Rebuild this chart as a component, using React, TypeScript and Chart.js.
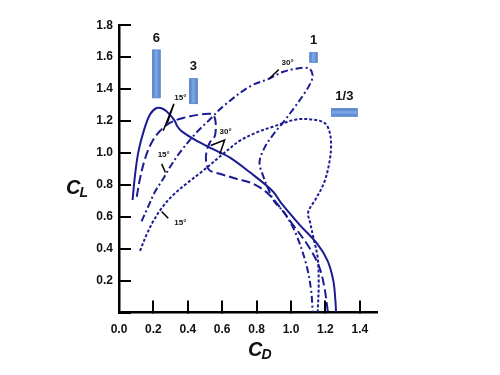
import React, { useEffect, useRef } from 'react';
import { Chart, registerables } from 'chart.js';

Chart.register(...registerables);

// ---- data (C_D, C_L) ----
const ar6: [number, number][] = [
  [0.079, 0.705], [0.093, 0.859], [0.112, 1.003], [0.141, 1.127], [0.18, 1.24],
  [0.219, 1.281], [0.257, 1.275], [0.296, 1.24], [0.325, 1.199], [0.34, 1.165],
  [0.365, 1.135], [0.45, 1.077], [0.547, 1.023], [0.643, 0.972], [0.759, 0.88],
  [0.894, 0.76], [0.94, 0.69], [1.049, 0.551], [1.155, 0.427], [1.213, 0.324],
  [1.246, 0.2], [1.258, 0.077], [1.262, 0.0],
];
const ar3: [number, number][] = [
  [0.103, 0.725], [0.122, 0.838], [0.151, 0.962], [0.19, 1.065], [0.238, 1.137],
  [0.296, 1.188], [0.373, 1.219], [0.47, 1.24], [0.528, 1.245], [0.552, 1.232],
  [0.562, 1.188], [0.557, 1.106], [0.528, 1.065], [0.508, 1.003], [0.508, 0.931],
  [0.528, 0.89], [0.586, 0.869], [0.682, 0.838], [0.779, 0.807], [0.875, 0.736],
  [1.01, 0.551], [1.107, 0.406], [1.165, 0.283], [1.194, 0.159], [1.213, 0.015],
  [1.215, 0.0],
];
const ar1: [number, number][] = [
  [0.131, 0.571], [0.17, 0.664], [0.209, 0.756], [0.257, 0.838], [0.296, 0.91],
  [0.354, 1.003], [0.45, 1.127], [0.528, 1.209], [0.605, 1.291], [0.759, 1.415],
  [0.875, 1.466], [0.952, 1.507], [1.049, 1.531], [1.107, 1.528], [1.126, 1.486],
  [1.117, 1.445], [1.078, 1.373], [1.01, 1.27], [0.952, 1.188], [0.9, 1.12],
  [0.845, 1.03], [0.817, 0.941], [0.837, 0.859], [0.875, 0.756], [0.904, 0.694],
  [0.965, 0.62], [1.03, 0.489], [1.088, 0.304], [1.117, 0.139], [1.126, 0.0],
];
const ar13: [number, number][] = [
  [0.122, 0.386], [0.161, 0.489], [0.199, 0.571], [0.247, 0.653], [0.315, 0.736],
  [0.392, 0.807], [0.479, 0.88], [0.605, 0.993], [0.701, 1.075], [0.798, 1.127],
  [0.894, 1.164], [1.03, 1.209], [1.126, 1.209], [1.194, 1.188], [1.223, 1.137],
  [1.233, 1.044], [1.223, 0.941], [1.194, 0.818], [1.146, 0.715], [1.1, 0.628],
  [1.112, 0.56], [1.13, 0.47], [1.155, 0.344], [1.161, 0.18], [1.155, 0.0],
];

// aspect-ratio boxes
const boxLabels = ['6', '3', '1', '1/3'];
const boxCD0 = [0.193, 0.408, 1.107, 1.233];
const boxCD1 = [0.242, 0.458, 1.155, 1.388];
const boxCL0 = [1.343, 1.306, 1.565, 1.227];
const boxCL1 = [1.647, 1.468, 1.631, 1.28];

// angle annotations
const angleLabels = ['15°', '30°', '15°', '15°', '30°'];
const angleLabelPos: [number, number][] = [
  [0.357, 1.348], [0.62, 1.133], [0.26, 0.985], [0.357, 0.565], [0.98, 1.563],
];
const anglePointers: [number, number][][] = [
  [[0.257, 1.139], [0.319, 1.307], [0.281, 1.188]],
  [[0.533, 1.046], [0.614, 1.081], [0.586, 0.991]],
  [[0.248, 0.931], [0.27, 0.877]],
  [[0.248, 0.633], [0.286, 0.59]],
  [[0.929, 1.522], [0.875, 1.466]],
];

const xTicks = [0, 0.2, 0.4, 0.6, 0.8, 1.0, 1.2, 1.4];
const yTicks = [0, 0.2, 0.4, 0.6, 0.8, 1.0, 1.2, 1.4, 1.6, 1.8];

const LINE = '#1c1c92';
const FONT = '"Liberation Sans", Arial, sans-serif';

const toPts = (a: [number, number][]) => a.map(([x, y]) => ({ x, y }));

const overlay = {
  id: 'overlay',
  afterDatasetsDraw(chart: any) {
    const { ctx, chartArea } = chart;
    const xs = chart.scales.x;
    const ys = chart.scales.y;
    const px = (v: number) => xs.getPixelForValue(v);
    const py = (v: number) => ys.getPixelForValue(v);
    ctx.save();
    // boxes + labels
    boxLabels.forEach((lab, i) => {
      const l = px(boxCD0[i]);
      const r = px(boxCD1[i]);
      const t = py(boxCL1[i]);
      const b = py(boxCL0[i]);
      const w = r - l;
      const h = b - t;
      const g = w < h ? ctx.createLinearGradient(l, 0, r, 0) : ctx.createLinearGradient(0, t, 0, b);
      g.addColorStop(0, '#4573c2');
      g.addColorStop(0.45, '#80abe8');
      g.addColorStop(1, '#4d7dca');
      ctx.fillStyle = g;
      ctx.fillRect(l, t, w, h);
      ctx.strokeStyle = '#6890cf';
      ctx.lineWidth = 1;
      ctx.strokeRect(l + 0.5, t + 0.5, w - 1, h - 1);
      ctx.fillStyle = '#111';
      ctx.font = `bold 13px ${FONT}`;
      ctx.textAlign = 'center';
      ctx.textBaseline = 'bottom';
      ctx.fillText(lab, (l + r) / 2, t - 5);
    });
    // angle pointers
    ctx.strokeStyle = '#000';
    ctx.lineWidth = 1.5;
    anglePointers.forEach((path) => {
      ctx.beginPath();
      path.forEach(([x, y], k) => {
        if (k === 0) ctx.moveTo(px(x), py(y));
        else ctx.lineTo(px(x), py(y));
      });
      ctx.stroke();
    });
    ctx.fillStyle = '#111';
    ctx.font = `bold 8px ${FONT}`;
    ctx.textAlign = 'center';
    ctx.textBaseline = 'middle';
    angleLabels.forEach((t, i) => {
      ctx.fillText(t, px(angleLabelPos[i][0]), py(angleLabelPos[i][1]));
    });
    // axis titles with subscripts
    const drawSub = (main: string, sub: string, x: number, y: number) => {
      ctx.textAlign = 'left';
      ctx.textBaseline = 'middle';
      ctx.font = `italic bold 20px ${FONT}`;
      ctx.fillText(main, x, y);
      const w = ctx.measureText(main).width;
      ctx.font = `italic bold 14px ${FONT}`;
      ctx.fillText(sub, x + w - 1, y + 5);
    };
    ctx.fillStyle = '#111';
    drawSub('C', 'L', chartArea.left - 53, chartArea.top + 163);
    drawSub('C', 'D', chartArea.left + 129, chartArea.bottom + 38);
    ctx.restore();
  },
};

const mkDs = (data: [number, number][], dash: number[]) => ({
  data: toPts(data),
  showLine: true,
  borderColor: LINE,
  backgroundColor: LINE,
  borderWidth: 2,
  borderDash: dash,
  pointRadius: 0,
  tension: 0.35,
  fill: false,
});

export default function App() {
  const ref = useRef<HTMLCanvasElement>(null);
  useEffect(() => {
    const chart = new Chart(ref.current as HTMLCanvasElement, {
      type: 'scatter',
      data: {
        datasets: [
          mkDs(ar6, []),
          mkDs(ar3, [9, 4]),
          mkDs(ar1, [7, 3, 2, 3]),
          mkDs(ar13, [3, 2]),
        ] as any,
      },
      options: {
        responsive: false,
        devicePixelRatio: 1,
        animation: false,
        layout: { padding: { left: 0, right: 123, top: 21, bottom: 0 } },
        plugins: { legend: { display: false }, tooltip: { enabled: false } },
        scales: {
          x: {
            type: 'linear',
            min: 0,
            max: 1.5,
            afterFit: (s: any) => { s.height = 62.5; },
            afterBuildTicks: (s: any) => { s.ticks = xTicks.map((v) => ({ value: v })); },
            grid: { drawOnChartArea: false, tickLength: -12, color: '#000', lineWidth: 2 },
            border: { display: true, color: '#000', width: 2.5 },
            ticks: {
              autoSkip: false,
              maxRotation: 0,
              padding: 22,
              color: '#111',
              font: { family: FONT, size: 12, weight: 'bold' },
              callback: (v: any) => Number(v).toFixed(1),
            },
          },
          y: {
            type: 'linear',
            min: 0,
            max: 1.8,
            afterFit: (s: any) => { s.width = 119; },
            afterBuildTicks: (s: any) => { s.ticks = yTicks.map((v) => ({ value: v })); },
            grid: { drawOnChartArea: false, tickLength: -12, color: '#000', lineWidth: 2 },
            border: { display: true, color: '#000', width: 2.5 },
            ticks: {
              autoSkip: false,
              padding: 18,
              color: '#111',
              font: { family: FONT, size: 12, weight: 'bold' },
              callback: (v: any) => (Number(v) === 0 ? '' : Number(v).toFixed(1)),
            },
          },
        },
      } as any,
      plugins: [overlay],
    });
    return () => chart.destroy();
  }, []);
  return (
    <div style={{ position: 'absolute', left: 0, top: 0, width: 500, height: 375, background: '#fff' }}>
      <canvas ref={ref} width={500} height={375} style={{ display: 'block' }} />
    </div>
  );
}
